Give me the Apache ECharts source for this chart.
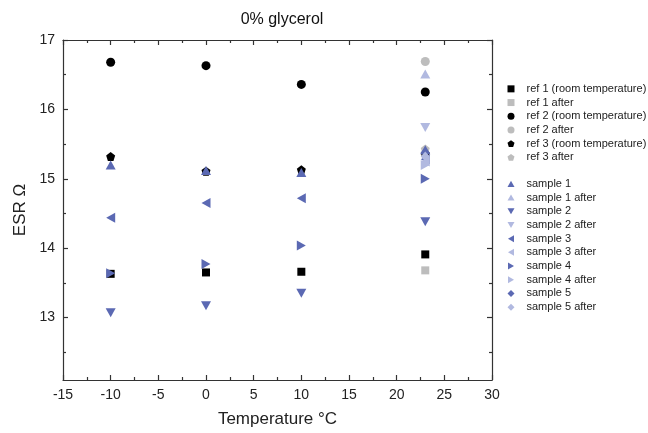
<!DOCTYPE html>
<html><head><meta charset="utf-8">
<script src="https://cdn.jsdelivr.net/npm/echarts@6/dist/echarts.min.js"></script>
<style>html,body{margin:0;padding:0;background:#fff}#c{width:648px;height:433px}</style>
</head><body><div id="c"></div>
<script>
// ---- data ----
var temps = [-10, 0, 10, 23];
var afterTemp = [23];
var ref1 = [13.63, 13.65, 13.66, 13.91];
var ref1After = [13.68];
var ref2 = [16.68, 16.63, 16.36, 16.25];
var ref2After = [16.69];
var ref3 = [15.32, 15.11, 15.13, 15.36];
var ref3After = [15.43];
var sample1 = [15.2, 15.12, 15.09, 15.42];
var sample1After = [16.51];
var sample2 = [13.07, 13.17, 13.35, 14.38];
var sample2After = [15.74];
var sample3 = [14.44, 14.65, 14.72, 15.28];
var sample3After = [15.25];
var sample4 = [13.64, 13.77, 14.04, 15.0];
var sample4After = [15.2];
var sample5 = [15.38];
var sample5After = [15.32];
var sample5Temp = [23];
var xTicks = [-15, -10, -5, 0, 5, 10, 15, 20, 25, 30];
var yTicks = [13, 14, 15, 16, 17];
var yMinorTicks = [12.5, 13.5, 14.5, 15.5, 16.5];

// ---- styling ----
var FONT = 'Liberation Sans, Arial, sans-serif';
var DARK = '#5b69b3', LIGHT = '#b1b9e0', BLACK = '#000000', GREY = '#bdbdbd';
var SYM = {
  square: 'rect',
  circle: 'circle',
  pentagon: 'path://M0,-10 L9.51,-3.09 L5.88,8.09 L-5.88,8.09 L-9.51,-3.09 Z',
  up: 'path://M5,0 L10,8.66 L0,8.66 Z',
  down: 'path://M0,0 L10,0 L5,8.66 Z',
  left: 'path://M0,5 L8.66,0 L8.66,10 Z',
  right: 'path://M0,0 L8.66,5 L0,10 Z',
  diamond: 'diamond'
};
var SIZE = {square: 8, circle: 9, pentagon: 9, up: [10, 9], down: [10, 9], left: [9, 10], right: [9, 10], diamond: [9, 10]};

function pts(xs, ys) { return ys.map(function (v, i) { return [xs[i], v]; }); }

var defs = [
  ['ref 1 (room temperature)', temps, ref1, 'square', BLACK],
  ['ref 1 after', afterTemp, ref1After, 'square', GREY],
  ['ref 2 (room temperature)', temps, ref2, 'circle', BLACK],
  ['ref 2 after', afterTemp, ref2After, 'circle', GREY],
  ['ref 3 (room temperature)', temps, ref3, 'pentagon', BLACK],
  ['ref 3 after', afterTemp, ref3After, 'pentagon', GREY],
  ['sample 1', temps, sample1, 'up', DARK],
  ['sample 1 after', afterTemp, sample1After, 'up', LIGHT],
  ['sample 2', temps, sample2, 'down', DARK],
  ['sample 2 after', afterTemp, sample2After, 'down', LIGHT],
  ['sample 3', temps, sample3, 'left', DARK],
  ['sample 3 after', afterTemp, sample3After, 'left', LIGHT],
  ['sample 4', temps, sample4, 'right', DARK],
  ['sample 4 after', afterTemp, sample4After, 'right', LIGHT],
  ['sample 5', sample5Temp, sample5, 'diamond', DARK],
  ['sample 5 after', afterTemp, sample5After, 'diamond', LIGHT]
];

var series = defs.map(function (d) {
  return {
    name: d[0], type: 'scatter', xAxisIndex: 0, yAxisIndex: 0,
    data: pts(d[1], d[2]), symbol: SYM[d[3]], symbolSize: SIZE[d[3]],
    itemStyle: {color: d[4], opacity: 1}, emphasis: {disabled: true}
  };
});

function legendData(from, to) {
  return defs.slice(from, to).map(function (d) { return {name: d[0], icon: SYM[d[3]]}; });
}
var legendCommon = {
  orient: 'vertical', left: 507.5, padding: 0, itemWidth: 7, itemHeight: 7, itemGap: 1,
  textStyle: {fontFamily: FONT, fontSize: 11, color: '#222', lineHeight: 12.7, padding: [0, 0, 0, 7]},
  selectedMode: false
};

var lineStyle = {color: '#333', width: 1.2};
function xAxisDef(pos, labels) {
  return {
    type: 'value', position: pos, min: -15, max: 30, interval: 5,
    axisLine: {show: true, onZero: false, lineStyle: lineStyle},
    axisTick: {show: true, inside: true, length: 5, lineStyle: lineStyle},
    minorTick: {show: true, splitNumber: 2, length: 3, lineStyle: lineStyle},
    splitLine: {show: false}, minorSplitLine: {show: false},
    axisLabel: {show: labels, fontFamily: FONT, fontSize: 14, color: '#222', margin: 8},
    name: labels ? 'Temperature °C' : '', nameLocation: 'middle', nameGap: 31,
    nameTextStyle: {fontFamily: FONT, fontSize: 17, color: '#222'}
  };
}
function yAxisDef(pos, ticks, len, labels, line) {
  return {
    type: 'value', position: pos, min: 12.1, max: 17,
    axisLine: {show: line, onZero: false, lineStyle: lineStyle},
    axisTick: {show: true, inside: true, length: len, customValues: ticks, lineStyle: lineStyle},
    splitLine: {show: false},
    axisLabel: {show: labels, customValues: yTicks, fontFamily: FONT, fontSize: 14, color: '#222', margin: 8},
    name: labels ? 'ESR Ω' : '', nameLocation: 'middle', nameGap: 30,
    nameTextStyle: {fontFamily: FONT, fontSize: 17, color: '#222'}
  };
}

var option = {
  animation: false,
  backgroundColor: '#fff',
  title: {text: '0% glycerol', left: 277, top: 7, textAlign: 'center',
    textStyle: {fontFamily: FONT, fontSize: 16, fontWeight: 'normal', color: '#111'}},
  grid: {left: 63, right: 156, top: 40, bottom: 49.5, containLabel: false},
  xAxis: [xAxisDef('bottom', true), xAxisDef('top', false)],
  yAxis: [
    yAxisDef('left', yTicks, 5, true, true),
    yAxisDef('left', yMinorTicks, 3, false, false),
    yAxisDef('right', yTicks, 5, false, true),
    yAxisDef('right', yMinorTicks, 3, false, false)
  ],
  legend: [
    Object.assign({top: 82.5, data: legendData(0, 6)}, legendCommon),
    Object.assign({top: 177.5, data: legendData(6, 16)}, legendCommon)
  ],
  series: series
};
var chart = echarts.init(document.getElementById('c'), null, {renderer: 'canvas'});
chart.setOption(option);
</script></body></html>
